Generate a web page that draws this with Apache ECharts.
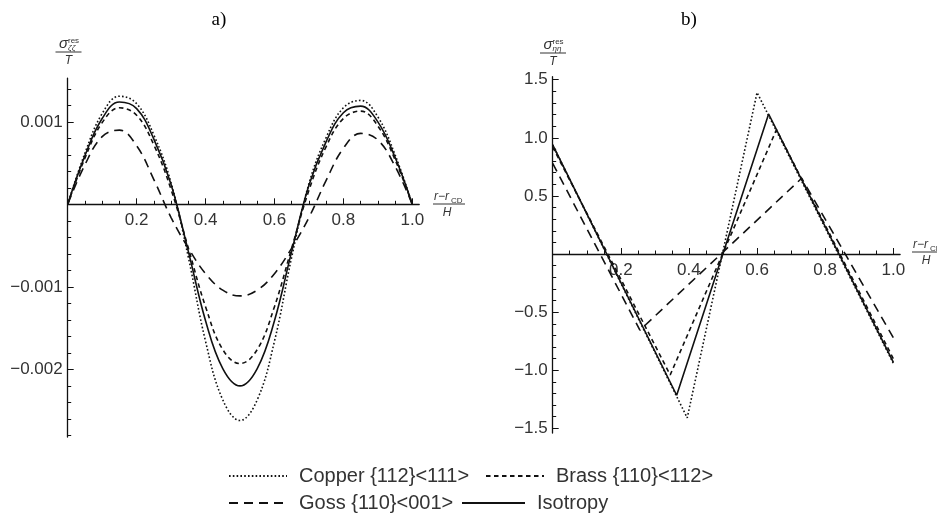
<!DOCTYPE html>
<html>
<head>
<meta charset="utf-8">
<script src="https://cdn.jsdelivr.net/npm/echarts@6/dist/echarts.min.js"></script>
<style>
	html, body { margin: 0; padding: 0; background: #fff; }
	#chart { width: 937px; height: 523px; }
</style>
</head>
<body>
<div id="chart"></div>
<script>
// a) smooth residual stress curves, sampled every 0.05
var xLeft = [0, 0.05, 0.1, 0.15, 0.2, 0.25, 0.3, 0.35, 0.4, 0.45, 0.5, 0.55, 0.6, 0.65, 0.7, 0.75, 0.8, 0.85, 0.9, 0.95, 1.0];
var copperLeft = [0, 0.00062, 0.00110, 0.00131, 0.00122, 0.00084, 0.00026, -0.00064, -0.00166, -0.00237, -0.00262, -0.00237, -0.00166, -0.00064, 0.00025, 0.00081, 0.00117, 0.00126, 0.00106, 0.00060, 0];
var brassLeft = [0, 0.00056, 0.00099, 0.00117, 0.00108, 0.00072, 0.00018, -0.00053, -0.00124, -0.00176, -0.00193, -0.00176, -0.00124, -0.00053, 0.00017, 0.00070, 0.00104, 0.00113, 0.00095, 0.00054, 0];
var gossLeft = [0, 0.00048, 0.00082, 0.00090, 0.00071, 0.00030, -0.00016, -0.00053, -0.00084, -0.00104, -0.00111, -0.00104, -0.00084, -0.00053, -0.00016, 0.00029, 0.00068, 0.00086, 0.00078, 0.00046, 0];
var isoLeft = [0, 0.00059, 0.00104, 0.00124, 0.00116, 0.00079, 0.00024, -0.00057, -0.00141, -0.00199, -0.00220, -0.00199, -0.00141, -0.00057, 0.00023, 0.00076, 0.00111, 0.00119, 0.00100, 0.00057, 0];

// b) piecewise linear curves (corner points)
var copperRightX = [0, 0.395, 0.6, 1.0];
var copperRightY = [0.94, -1.41, 1.39, -0.94];
var brassRightX = [0, 0.345, 0.657, 1.0];
var brassRightY = [0.92, -1.04, 1.07, -0.90];
var gossRightX = [0, 0.256, 0.731, 1.0];
var gossRightY = [0.78, -0.655, 0.652, -0.72];
var isoRightX = [0, 0.364, 0.634, 1.0];
var isoRightY = [0.94, -1.215, 1.205, -0.93];

var names = ['Copper {112}<111>', 'Brass {110}<112>', 'Goss {110}<001>', 'Isotropy'];
var xTicks = [0.2, 0.4, 0.6, 0.8, 1.0];
var yTicksLeft = [-0.002, -0.001, 0.001];
var yTicksRight = [-1.5, -1.0, -0.5, 0.5, 1.0, 1.5];

var INK = '#111';
var TXT = '#333';
var SANS = '"Liberation Sans", Arial, sans-serif';
var dashes = [[1.6, 2.2], [4.5, 3.5], [9, 6], 'solid'];

function pairs(xs, ys) {
	var out = [];
	for (var i = 0; i < xs.length; i++) {
		out.push([xs[i], ys[i]]);
	}
	return out;
}

function minus(s) {
	return s.replace('-', '\u2212');
}

function makeSeries(idx, data, axis, smooth) {
	return {
		name: names[idx],
		type: 'line',
		xAxisIndex: axis,
		yAxisIndex: axis,
		data: data,
		smooth: smooth,
		symbol: 'none',
		showSymbol: false,
		animation: false,
		itemStyle: { color: INK },
		lineStyle: { color: INK, width: 1.6, type: dashes[idx] }
	};
}

// x axis drawn at y = 0 by pulling it up from the grid bottom
function xAxisOpt(gridIndex, offset) {
	return {
		type: 'value',
		gridIndex: gridIndex,
		position: 'bottom',
		offset: offset,
		min: 0,
		max: 1.02,
		interval: 0.2,
		splitLine: { show: false },
		axisLine: { onZero: false, lineStyle: { color: INK, width: 1.3 } },
		axisTick: { inside: true, length: 6, customValues: xTicks, lineStyle: { color: INK, width: 1 } },
		minorTick: { show: true, splitNumber: 4, length: 3.5, lineStyle: { color: INK, width: 1 } },
		axisLabel: {
			customValues: xTicks,
			margin: 8,
			color: TXT,
			fontSize: 17,
			fontFamily: SANS,
			formatter: function(v) { return v.toFixed(1); }
		}
	};
}

function yAxisOpt(gridIndex, min, max, ticks, digits) {
	return {
		type: 'value',
		gridIndex: gridIndex,
		min: min,
		max: max,
		splitNumber: 5,
		splitLine: { show: false },
		axisLine: { onZero: false, lineStyle: { color: INK, width: 1.3 } },
		axisTick: { inside: true, length: 6, customValues: ticks, lineStyle: { color: INK, width: 1 } },
		minorTick: { show: true, splitNumber: 5, length: 3.5, lineStyle: { color: INK, width: 1 } },
		axisLabel: {
			customValues: ticks,
			margin: 5,
			color: TXT,
			fontSize: 17,
			fontFamily: SANS,
			formatter: function(v) { return minus(v.toFixed(digits)); }
		}
	};
}

// sigma / T style axis title
function yTitle(cx, lineY, sub) {
	return [
		{ type: 'text', x: cx - 0.5, y: lineY - 1, style: { text: '\u03c3', font: 'italic 15px ' + SANS, fill: TXT, align: 'right', verticalAlign: 'bottom' } },
		{ type: 'text', x: cx - 0.5, y: lineY - 7, style: { text: 'res', font: '8px ' + SANS, fill: TXT, align: 'left', verticalAlign: 'bottom' } },
		{ type: 'text', x: cx - 0.5, y: lineY, style: { text: sub, font: 'italic 8px ' + SANS, fill: TXT, align: 'left', verticalAlign: 'bottom' } },
		{ type: 'line', shape: { x1: cx - 13, y1: lineY, x2: cx + 13, y2: lineY }, style: { stroke: TXT, lineWidth: 1 } },
		{ type: 'text', x: cx, y: lineY + 3, style: { text: 'T', font: 'italic 12px ' + SANS, fill: TXT, align: 'center', verticalAlign: 'top' } }
	];
}

// (r - r_CD) / H style axis title
function xTitle(x0, lineY) {
	return [
		{ type: 'text', x: x0 + 1, y: lineY - 1, style: { text: 'r\u2212r', font: 'italic 12px ' + SANS, fill: TXT, align: 'left', verticalAlign: 'bottom' } },
		{ type: 'text', x: x0 + 18, y: lineY + 1, style: { text: 'CD', font: '8px ' + SANS, fill: TXT, align: 'left', verticalAlign: 'bottom' } },
		{ type: 'line', shape: { x1: x0, y1: lineY, x2: x0 + 32, y2: lineY }, style: { stroke: TXT, lineWidth: 1 } },
		{ type: 'text', x: x0 + 14, y: lineY + 3, style: { text: 'H', font: 'italic 12px ' + SANS, fill: TXT, align: 'center', verticalAlign: 'top' } }
	];
}

function legendOpt(idx, left, top, width) {
	return {
		data: [names[idx]],
		left: left,
		top: top,
		padding: 0,
		itemWidth: width,
		itemHeight: 12,
		selectedMode: false,
		itemStyle: { opacity: 0 },
		textStyle: { color: TXT, fontSize: 20, fontFamily: SANS, padding: [0, 0, 0, 7] }
	};
}

var series = [
	makeSeries(0, pairs(xLeft, copperLeft), 0, 0.4),
	makeSeries(1, pairs(xLeft, brassLeft), 0, 0.4),
	makeSeries(2, pairs(xLeft, gossLeft), 0, 0.4),
	makeSeries(3, pairs(xLeft, isoLeft), 0, 0.4),
	makeSeries(0, pairs(copperRightX, copperRightY), 1, false),
	makeSeries(1, pairs(brassRightX, brassRightY), 1, false),
	makeSeries(2, pairs(gossRightX, gossRightY), 1, false),
	makeSeries(3, pairs(isoRightX, isoRightY), 1, false)
];

var graphics = [].concat(
	yTitle(68.5, 52, '\u03b6\u03b6'),
	yTitle(553, 53, '\u03b7\u03b7'),
	xTitle(433, 204),
	xTitle(912, 252),
	[
		{ type: 'text', x: 219, y: 20, style: { text: 'a)', font: '19px "Liberation Serif", "Times New Roman", serif', fill: '#000', align: 'center', verticalAlign: 'middle' } },
		{ type: 'text', x: 689, y: 20, style: { text: 'b)', font: '19px "Liberation Serif", "Times New Roman", serif', fill: '#000', align: 'center', verticalAlign: 'middle' } }
	]
);

var chart = echarts.init(document.getElementById('chart'), null, { renderer: 'canvas' });
chart.setOption({
	backgroundColor: '#fff',
	animation: false,
	grid: [
		{ left: 67.7, top: 78.1, width: 351.5, height: 358.9, outerBoundsMode: 'none' },
		{ left: 552.7, top: 76.7, width: 347.4, height: 356.3, outerBoundsMode: 'none' }
	],
	xAxis: [xAxisOpt(0, -232.7), xAxisOpt(1, -179)],
	yAxis: [
		yAxisOpt(0, -0.00282, 0.00153, yTicksLeft, 3),
		yAxisOpt(1, -1.54, 1.526, yTicksRight, 1)
	],
	legend: [
		legendOpt(0, 228, 466, 58),
		legendOpt(1, 485, 466, 58),
		legendOpt(2, 228, 493, 58),
		legendOpt(3, 461, 493, 63)
	],
	graphic: graphics,
	series: series
});
</script>
</body>
</html>
